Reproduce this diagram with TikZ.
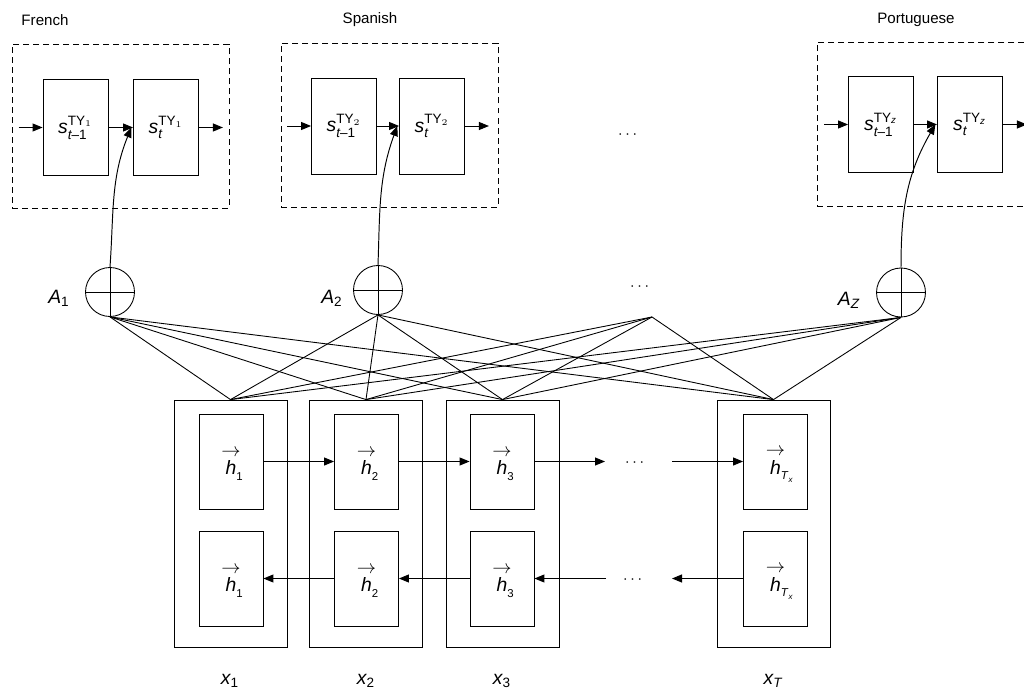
\documentclass[tikz,border=0pt]{standalone}
\usepackage{amsmath}
\usepackage{fontspec}
\setmainfont{Liberation Sans}
\usepackage{tikz}
\usetikzlibrary{positioning,arrows.meta}

\newcommand{\sst}[2]{$\textit{s}^{\text{TY}_{#1}}_{#2}$}
\newcommand{\hvec}[1]{\begin{tabular}{@{}c@{}}$\rightarrow$\\[-1.5pt]\textit{h}\rlap{\raisebox{-3pt}{\fontsize{6.5}{7}\selectfont #1}}\end{tabular}}

\begin{document}
\begin{tikzpicture}[x=0.02cm,y=-0.02cm,
  >={Triangle[length=2mm,width=1.6mm]},
  every node/.style={font=\fontsize{8.6}{10}\selectfont},
  big/.style={font=\fontsize{11}{12}\selectfont},
  lang/.style={draw,dashed,dash pattern=on 3.4pt off 2.3pt,line width=0.5pt,minimum width=4.34cm,minimum height=3.28cm,inner sep=0pt},
  state/.style={draw,big,line width=0.5pt,minimum width=1.3cm,minimum height=1.92cm,inner sep=0pt},
  outer/.style={draw,line width=0.5pt,minimum width=2.26cm,minimum height=4.94cm,inner sep=0pt},
  hid/.style={draw,big,line width=0.5pt,minimum width=1.28cm,minimum height=1.9cm,inner sep=0pt},
  attn/.style={draw,circle,line width=0.5pt,minimum size=0.98cm,inner sep=0pt},
  link/.style={line width=0.5pt},
  flow/.style={->,line width=0.55pt}]
\useasboundingbox (0,0) rectangle (1024,689);

% target languages
\node (fr) at (45,20) {French};
\node (es) at (370,20) {Spanish};
\node (pt) at (916,20) {Portuguese};
\node[lang] (frbox) at (120.5,126) {};
\node[lang] (esbox) at (389.5,125) {};
\node[lang] (ptbox) at (925.5,124) {};
\node[state] (fr1) at (75.5,127.5) {\sst{1}{\textit{t}\text{–1}}};
\node[state] (fr2) at (166,127.5) {\sst{1}{\textit{t}}};
\node[state] (es1) at (344,126) {\sst{2}{\textit{t}\text{–1}}};
\node[state] (es2) at (432,126) {\sst{2}{\textit{t}}};
\node[state] (pt1) at (881,124.5) {\sst{\textit{z}}{\textit{t}\text{–1}}};
\node[state] (pt2) at (970,124.5) {\sst{\textit{z}}{\textit{t}}};
\node (topdots) at (629,135) {$\cdots$};

\foreach \a in {fr,es,pt}{
  \draw[flow] ([xshift=-0.48cm]\a1.west) -- (\a1.west);
  \draw[flow] (\a1.east) -- (\a2.west);
  \draw[flow] (\a2.east) -- ([xshift=0.48cm]\a2.east);
}

% attention
\node[attn] (a1) at (110,292) {};
\node[attn] (a2) at (378,290) {};
\node[attn] (az) at (901,292.5) {};
\foreach \c in {a1,a2,az}
  \draw[line width=0.5pt] (\c.north) -- (\c.south) (\c.west) -- (\c.east);
\node[big] (la1) at (59,298) {$\textit{A}_{\text{1}}$};
\node[big] (la2) at (332,298) {$\textit{A}_{\text{2}}$};
\node[big] (laz) at (849,300) {$\textit{A}_{\textit{Z}}$};
\node (middots) at (641,287) {$\cdots$};
\coordinate (am) at (652,317);

\draw[flow] (a1.north) to[out=86,in=-112] ([xshift=-1pt]fr2.west);
\draw[flow] (a2.north) to[out=88,in=-110] ([xshift=-1pt]es2.west);
\draw[flow] (az.north) to[out=90,in=-120] ([xshift=-1pt]pt2.west);

% encoder
\node[outer] (e1) at (230.5,523.5) {};
\node[outer] (e2) at (366,523.5) {};
\node[outer] (e3) at (502.5,523.5) {};
\node[outer] (eT) at (773.5,523.5) {};
\node[hid] (f1) at (231,461.5) {\hvec{1}};
\node[hid] (f2) at (366.5,461.5) {\hvec{2}};
\node[hid] (f3) at (502,461.5) {\hvec{3}};
\node[hid] (fT) at (775.5,461.5) {\hvec{\textit{T}\raisebox{-1.5pt}{\fontsize{4.5}{5}\selectfont\textit{x}}}};
\node[hid] (b1) at (231,578.5) {\hvec{1}};
\node[hid] (b2) at (366.5,578.5) {\hvec{2}};
\node[hid] (b3) at (502,578.5) {\hvec{3}};
\node[hid] (bT) at (775.5,578.5) {\hvec{\textit{T}\raisebox{-1.5pt}{\fontsize{4.5}{5}\selectfont\textit{x}}}};
\node (fdots) at (636,463) {$\cdots$};
\node (bdots) at (634,580) {$\cdots$};
\coordinate (fgo) at (605,461.5);
\coordinate (fin) at (672,461.5);
\coordinate (bin) at (606,578.5);
\coordinate (bgo) at (672,578.5);

\draw[flow] (f1) -- (f2);
\draw[flow] (f2) -- (f3);
\draw[flow] (f3) -- (fgo);
\draw[flow] (fin) -- (fT);
\draw[flow] (b2) -- (b1);
\draw[flow] (b3) -- (b2);
\draw[flow] (bin) -- (b3);
\draw[flow] (bT) -- (bgo);

\node[big] (x1) at (230,681) {$\textit{x}_{\text{1}}$};
\node[big] (x2) at (366,681) {$\textit{x}_{\text{2}}$};
\node[big] (x3) at (502,681) {$\textit{x}_{\text{3}}$};
\node[big] (xT) at (773,681) {$\textit{x}_{\textit{T}}$};

% alignment links
\foreach \s in {a1.south,a2.south,am,az.south}
  \foreach \t in {e1,e2,e3,eT}
    \draw[link] (\s) -- (\t.north);
\end{tikzpicture}
\end{document}
